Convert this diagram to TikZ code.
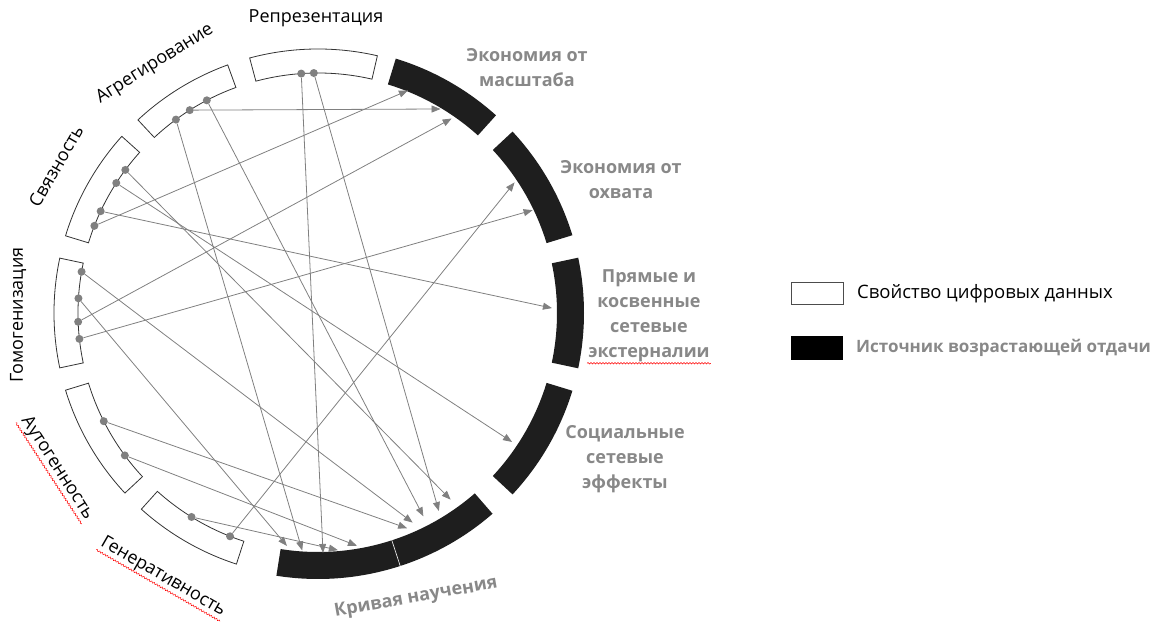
\documentclass[tikz,border=0pt]{standalone}
\usepackage{fontspec}
\setmainfont{Open Sans}
\usetikzlibrary{arrows.meta,decorations.pathmorphing}

\definecolor{linkgray}{RGB}{128,128,128}
\definecolor{labelgray}{RGB}{136,136,136}
\definecolor{sourceblack}{RGB}{30,30,30}

\tikzset{
  prop/.style={draw=black!80, fill=white, line width=0.8pt},
  source/.style={fill=sourceblack},
  dot/.style={circle, fill=linkgray, inner sep=0pt, minimum size=8pt},
  link/.style={linkgray, line width=0.8pt, -{Triangle[length=9pt,width=7pt]}},
  proplabel/.style={font=\fontsize{18}{21}\selectfont, inner sep=1pt},
  srclabel/.style={font=\fontsize{18}{25}\selectfont\bfseries, text=labelgray, align=center, inner sep=1pt},
  spell/.style={red, line width=0.5pt, decorate, decoration={snake, amplitude=0.8pt, segment length=3pt}}
}

\begin{document}
\begin{tikzpicture}[x=1pt, y=1pt]
\useasboundingbox (-318,-310) rectangle (850,313);

% properties of digital data
\foreach \a/\b in {77/105, 110/133, 138/163, 168/192, 197/223, 228/252}
  \draw[prop] (\a:240pt) arc[start angle=\a, end angle=\b, radius=240pt]
    -- (\b:264pt) arc[start angle=\b, end angle=\a, radius=264pt] -- cycle;

% sources of increasing returns
\foreach \a/\b in {48/73, 17/43, -12/12, -43/-17, -99/-49}
  \fill[source] (\a:239pt) arc[start angle=\a, end angle=\b, radius=239pt]
    -- (\b:266pt) arc[start angle=\b, end angle=\a, radius=266pt] -- cycle;
\draw[white, line width=0.6pt] (-72:238pt) -- (-72:267pt);

% dots on the inner edge
\foreach \n/\a in {r1/94, r2/91, a1/126.3, a2/122.3, a3/117.6,
    s1/143.4, s2/147.2, s3/154.9, s4/158.7,
    g1/170.1, g2/176.5, g3/182.1, g4/186.2,
    u1/206.8, u2/216.4, e1/238.2, e2/248.5}
  \node[dot] (\n) at (\a:240pt) {};

% arrow ends
\foreach \n/\a/\r in {m1/68/240pt, m2/59/238pt, m3/55.5/236pt,
    o1/33.6/236pt, o2/25.6/238pt, p/1.2/234pt, c/-33.6/233pt,
    ku1/-54.6/229pt, ku2/-58.6/232pt, ku3/-62.6/229pt, ku4/-65.7/230pt, ku5/-67.5/233pt,
    kl1/-97.6/235pt, kl2/-93.8/238pt, kl3/-88.8/240pt, kl4/-85.2/238pt, kl5/-80.5/236pt}
  \coordinate (\n) at (\a:\r);

\foreach \s/\t in {r1/kl3, r2/ku2, a1/kl2, a2/m2, a3/ku3,
    s1/ku1, s2/c, s3/p, s4/m1,
    g1/ku4, g2/kl1, g3/m3, g4/o2,
    u1/ku5, u2/kl5, e1/kl4, e2/o1}
  \draw[link] (\s) -- (\t);

% labels
\node[proplabel] (repr) at (-2,295) {Репрезентация};
\node[proplabel, rotate=32] (aggr) at (-163,249) {Агрегирование};
\node[proplabel, rotate=60] (conn) at (-262,147) {Связность};
\node[proplabel, rotate=90] (homo) at (-300,-2) {Гомогенизация};
\node[proplabel, rotate=-57] (auto) at (-261,-155) {Аутогенность};
\node[proplabel, rotate=-30] (gene) at (-155,-264) {Генеративность};

\node[srclabel] (scale) at (209,245) {Экономия от\\масштаба};
\node[srclabel] (scope) at (303,133) {Экономия от\\охвата};
\node[srclabel] (net) at (331,-3) {Прямые и\\косвенные\\сетевые\\экстерналии};
\node[srclabel] (soc) at (307,-146) {Социальные\\сетевые\\эффекты};
\node[srclabel, rotate=10] (curve) at (98,-285) {Кривая научения};

\draw[spell] (auto.south west) -- (auto.south east);
\draw[spell] (gene.south west) -- (gene.south east);
\draw[spell] (net.south west) -- (net.south east);

% legend
\node[draw=black!70, fill=white, line width=0.8pt, minimum width=52pt, minimum height=22pt, inner sep=0pt] (legprop) at (499,20) {};
\node[fill=black, minimum width=52pt, minimum height=24pt, inner sep=0pt] (legsrc) at (499,-35) {};
\node[proplabel, font=\fontsize{18.5}{21}\selectfont, anchor=west] (legproptext) at (538,19) {Свойство цифровых данных};
\node[srclabel, font=\fontsize{17}{21}\selectfont\bfseries, anchor=west] (legsrctext) at (537,-35) {Источник возрастающей отдачи};

\end{tikzpicture}
\end{document}
